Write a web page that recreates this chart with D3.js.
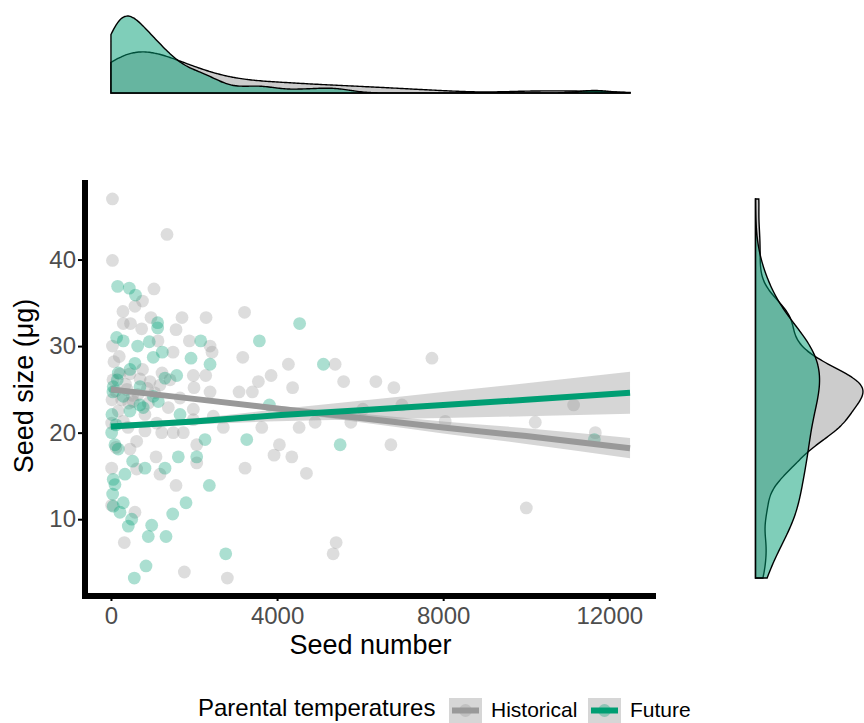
<!DOCTYPE html>
<html>
<head>
<meta charset="utf-8">
<script src="https://cdn.jsdelivr.net/npm/d3@7"></script>
<style>
  body { margin: 0; background: #fff; }
  text { font-family: "Liberation Sans", Arial, sans-serif; }
</style>
</head>
<body>
<script>
// seed number / seed size per parental temperature group
const histSeedNumber = [36,1350,36,1036,759,578,289,964,1711,2290,3217,296,470,740,1567,1133,1887,2386,36,2434,200,3174,1494,4273,5398,7729,
  1983,2282,3856,3550,5603,6379,4374,6813,3085,3405,2386,2000,217,458,940,1181,1422,258,537,899,176,17,296,1101,819,1222,1501,1742,1983,1381,1983,2465,2706,619,458,2065,3632,4531,4916,5777,6066,7006,8049,10218,11141,11664,
  6741,4056,3928,4355,4707,3229,2065,1085,1181,619,17,1567,17,578,321,1767,2803,10002,5423,5350,72,120,
  386,651,24,819,410,1663,48,
  110,350,520,700,880,1050,1230,430,760];
const histSeedSize = [47.0,42.9,39.9,36.6,35.2,34.6,34.0,33.3,33.3,33.3,33.9,32.6,32.6,32.0,31.9,30.6,30.6,30.0,30.0,29.3,28.8,28.7,29.3,27.9,27.9,28.6,
  26.6,26.6,26.6,25.9,25.9,25.9,25.2,25.2,24.7,24.7,24.7,25.2,26.8,26.8,25.9,25.5,26.1,23.8,23.6,23.4,22.5,21.1,21.3,21.1,20.2,20.0,20.0,20.0,21.5,22.9,22.7,21.9,20.6,19.0,18.1,18.6,20.6,20.6,21.2,21.2,22.7,23.2,21.3,21.2,23.2,20.0,
  18.6,18.6,17.4,17.2,15.3,15.9,16.5,17.2,15.2,15.8,15.9,13.9,11.6,10.8,7.3,3.9,3.2,11.3,7.3,6.0,28.2,18.3,
  25.0,24.4,23.8,22.1,20.6,24.0,26.1,
  24.8,25.6,24.3,26.2,25.1,24.6,26.9,23.4,27.3];
const futSeedNumber = [161,441,590,1125,1125,4543,3574,137,296,643,923,2162,2386,1928,1236,1019,5116,578,458,176,
  152,55,699,1301,1583,296,1019,1140,699,778,458,1663,17,96,176,2265,3270,3815,523,819,
  1301,1622,2065,337,55,96,2369,41,296,55,217,1808,1487,499,417,981,899,1326,2764,844,
  562,5519,11640,48,24,120];
const futSeedSize = [36.9,36.7,35.9,32.7,32.1,32.6,30.6,31.0,30.6,30.0,30.5,30.6,27.9,28.6,29.3,28.7,27.9,28.0,27.3,26.9,
  26.1,25.3,25.3,26.3,26.6,24.2,24.2,23.6,23.2,22.9,22.5,22.1,20.0,18.6,18.1,19.2,19.2,23.2,16.7,15.9,
  15.9,17.2,17.2,15.2,14.6,14.0,13.9,12.9,11.9,11.5,10.8,11.9,10.6,10.0,9.2,9.3,8.0,8.0,6.0,4.6,
  3.2,18.6,19.2,24.7,22.1,20.9];

// linear fits (mean and half width of the 95% band) read at these seed numbers
const fitX = [0, 2000, 4000, 6000, 8000, 10000, 12500];
const histFit = [25.0, 23.9, 22.8, 21.7, 20.6, 19.6, 18.2];
const histBand = [0.32, 0.23, 0.32, 0.50, 0.69, 0.91, 1.17];
const futFit = [20.7, 21.3, 22.0, 22.6, 23.2, 23.8, 24.6];
const futBand = [0.36, 0.36, 0.69, 1.09, 1.50, 1.91, 2.43];

const seedNumberRange = [0, 12500];
const xTicks = [0, 4000, 8000, 12000];
const yTicks = [10, 20, 30, 40];
const groups = ["Historical", "Future"];
const groupColors = ["#999999", "#009E73"];

const W = 864, H = 723;
const svg = d3.select("body").append("svg").attr("width", W).attr("height", H);

const ySizeExtent = d3.extent(histSeedSize.concat(futSeedSize));
const xPad = (seedNumberRange[1] - seedNumberRange[0]) * 0.05;
const yPad = (ySizeExtent[1] - ySizeExtent[0]) * 0.05;
const x = d3.scaleLinear().domain([seedNumberRange[0] - xPad, seedNumberRange[1] + xPad]).range([85, 656]);
const y = d3.scaleLinear().domain([ySizeExtent[0] - yPad, ySizeExtent[1] + yPad]).range([597, 180]);

const series = [
  {name: groups[0], color: groupColors[0], xs: histSeedNumber, ys: histSeedSize, fit: histFit, band: histBand},
  {name: groups[1], color: groupColors[1], xs: futSeedNumber, ys: futSeedSize, fit: futFit, band: futBand}
];

// points
series.forEach(s => {
  svg.append("g").selectAll("circle")
    .data(d3.range(s.xs.length))
    .enter().append("circle")
    .attr("cx", i => x(s.xs[i]))
    .attr("cy", i => y(s.ys[i]))
    .attr("r", 6.4)
    .attr("fill", s.color)
    .attr("fill-opacity", 0.33);
});

// bands then lines
series.forEach(s => {
  const area = d3.area()
    .x((d, i) => x(fitX[i]))
    .y0((d, i) => y(s.fit[i] - s.band[i]))
    .y1((d, i) => y(s.fit[i] + s.band[i]))
    .curve(d3.curveMonotoneX);
  svg.append("path").attr("d", area(fitX))
    .attr("fill", "#999999").attr("fill-opacity", 0.4);
});
series.forEach(s => {
  const line = d3.line().x((d, i) => x(fitX[i])).y((d, i) => y(s.fit[i]));
  svg.append("path").attr("d", line(fitX))
    .attr("fill", "none").attr("stroke", s.color).attr("stroke-width", 6);
});

// axes
const xAxis = svg.append("g").attr("transform", "translate(0,596)")
  .call(d3.axisBottom(x).tickValues(xTicks).tickFormat(d3.format("d")).tickSize(5).tickPadding(6));
const yAxis = svg.append("g").attr("transform", "translate(85,0)")
  .call(d3.axisLeft(y).tickValues(yTicks).tickFormat(d3.format("d")).tickSize(7).tickPadding(2));
[xAxis, yAxis].forEach(a => {
  a.select(".domain").remove();
  a.selectAll(".tick line").attr("stroke", "#000").attr("stroke-width", 2);
  a.selectAll(".tick text").attr("fill", "#4D4D4D").style("font-size", "24px")
    .style("font-family", "'Liberation Sans', Arial, sans-serif");
});
svg.append("line").attr("x1", 82).attr("x2", 656).attr("y1", 596).attr("y2", 596)
  .attr("stroke", "#000").attr("stroke-width", 6);
svg.append("line").attr("x1", 85).attr("x2", 85).attr("y1", 180).attr("y2", 599)
  .attr("stroke", "#000").attr("stroke-width", 6);

svg.append("text").attr("x", x(6250)).attr("y", 654).attr("text-anchor", "middle")
  .style("font-size", "27px").text("Seed number");
svg.append("text").attr("transform", "translate(33,386) rotate(-90)")
  .attr("text-anchor", "middle").style("font-size", "27px").text("Seed size (μg)");

// marginal densities (gaussian kernel, nrd0 bandwidth)
function bwNrd0(v) {
  const s = d3.sort(v);
  const iqr = d3.quantileSorted(s, 0.75) - d3.quantileSorted(s, 0.25);
  const lo = Math.min(d3.deviation(v), iqr / 1.34);
  return 0.9 * lo * Math.pow(v.length, -0.2);
}
function density(v, lo, hi) {
  const bw = bwNrd0(v);
  return d3.range(300).map(i => {
    const t = lo + (hi - lo) * i / 299;
    const d = d3.mean(v, u => Math.exp(-0.5 * ((t - u) / bw) ** 2)) / (bw * Math.sqrt(2 * Math.PI));
    return [t, d];
  });
}
const topDens = series.map(s => density(s.xs, seedNumberRange[0], seedNumberRange[1]));
const sideDens = series.map(s => density(s.ys, ySizeExtent[0], ySizeExtent[1]));

const topY = d3.scaleLinear().domain([0, d3.max(topDens.flat(), d => d[1])]).range([93, 16]);
const sideX = d3.scaleLinear().domain([0, d3.max(sideDens.flat(), d => d[1])]).range([755.5, 863]);

series.forEach((s, k) => {
  const a = d3.area().x(d => x(d[0])).y0(topY(0)).y1(d => topY(d[1])).curve(d3.curveBasis);
  svg.append("path").attr("d", a(topDens[k]))
    .attr("fill", s.color).attr("fill-opacity", 0.5)
    .attr("stroke", "#000").attr("stroke-width", 1.4);
  const b = d3.area().y(d => y(d[0])).x0(sideX(0)).x1(d => sideX(d[1])).curve(d3.curveBasis);
  svg.append("path").attr("d", b(sideDens[k]))
    .attr("fill", s.color).attr("fill-opacity", 0.5)
    .attr("stroke", "#000").attr("stroke-width", 1.4);
});

// legend
const leg = svg.append("g");
leg.append("text").attr("x", 198).attr("y", 716).style("font-size", "24px").text("Parental temperatures");
const keyX = [449, 588];
series.forEach((s, k) => {
  const g = leg.append("g").attr("transform", "translate(" + keyX[k] + ",698)");
  g.append("rect").attr("width", 33).attr("height", 25).attr("fill", "#999999").attr("fill-opacity", 0.4);
  g.append("circle").attr("cx", 16.5).attr("cy", 12.5).attr("r", 6.4).attr("fill", s.color).attr("fill-opacity", 0.33);
  g.append("line").attr("x1", 3).attr("x2", 30).attr("y1", 12.5).attr("y2", 12.5)
    .attr("stroke", s.color).attr("stroke-width", 6);
  g.append("text").attr("x", 42).attr("y", 19).style("font-size", "21px").text(s.name);
});
</script>
</body>
</html>
